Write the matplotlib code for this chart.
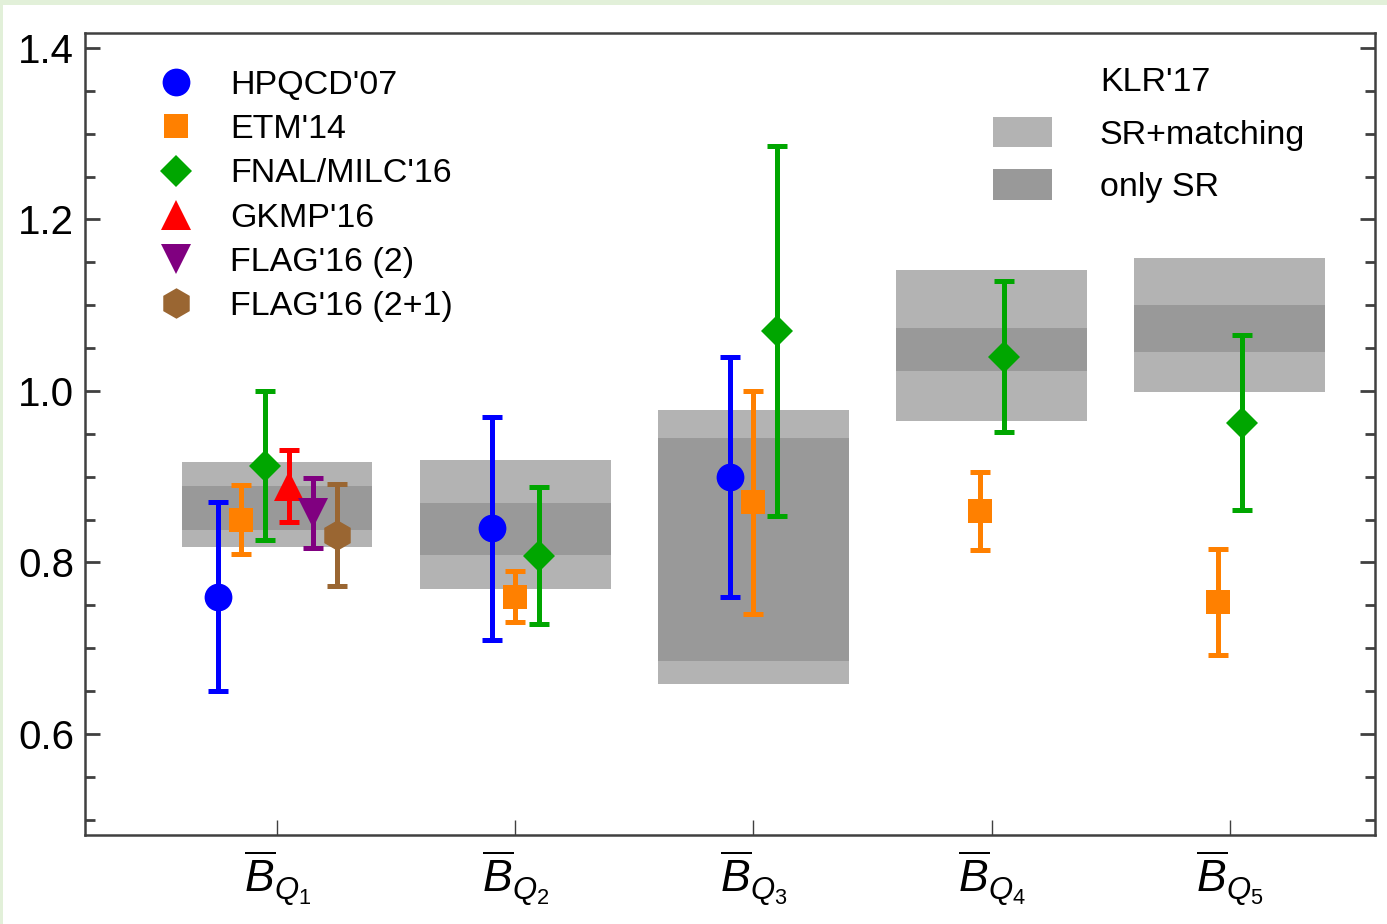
""" bag parameters: lattice results vs KLR'17 sum rules """

import numpy as np
import matplotlib.pyplot as plt
from matplotlib.lines import Line2D
from matplotlib.patches import Patch, Rectangle

plt.rcParams['font.family'] = ['Liberation Sans', 'DejaVu Sans']
plt.rcParams['mathtext.fontset'] = 'custom'
plt.rcParams['mathtext.rm'] = 'Liberation Sans'
plt.rcParams['mathtext.it'] = 'Liberation Sans:italic'

categories = [r'$\overline{B}_{Q_1}$', r'$\overline{B}_{Q_2}$', r'$\overline{B}_{Q_3}$',
              r'$\overline{B}_{Q_4}$', r'$\overline{B}_{Q_5}$']

# lattice results (value, error), nan = not available
series_names = ["HPQCD'07", "ETM'14", "FNAL/MILC'16", "GKMP'16", "FLAG'16 (2)", "FLAG'16 (2+1)"]
hpqcd = [0.76, 0.84, 0.90, np.nan, np.nan]
hpqcd_err = [0.11, 0.13, 0.14, np.nan, np.nan]
etm = [0.85, 0.76, 0.87, 0.86, 0.754]
etm_err = [0.04, 0.03, 0.13, 0.046, 0.062]
fnal = [0.913, 0.808, 1.07, 1.04, 0.963]
fnal_err = [0.087, 0.08, 0.216, 0.088, 0.102]
gkmp = [0.889, np.nan, np.nan, np.nan, np.nan]
gkmp_err = [0.042, np.nan, np.nan, np.nan, np.nan]
flag2 = [0.858, np.nan, np.nan, np.nan, np.nan]
flag2_err = [0.041, np.nan, np.nan, np.nan, np.nan]
flag21 = [0.832, np.nan, np.nan, np.nan, np.nan]
flag21_err = [0.059, np.nan, np.nan, np.nan, np.nan]

# KLR'17 sum rule bands (low, high)
sr_match_lo = [0.818, 0.769, 0.658, 0.965, 0.999]
sr_match_hi = [0.917, 0.920, 0.978, 1.141, 1.155]
sr_only_lo = [0.838, 0.809, 0.685, 1.023, 1.045]
sr_only_hi = [0.889, 0.869, 0.945, 1.073, 1.100]

values = [hpqcd, etm, fnal, gkmp, flag2, flag21]
errors = [hpqcd_err, etm_err, fnal_err, gkmp_err, flag2_err, flag21_err]
colors = ['#0000ff', '#ff8000', '#00a600', '#ff0000', '#800080', '#9a6632']
markers = ['o', 's', 'D', '^', 'v', 'h']
msizes = [20, 17, 16, 21, 21, 22]

fig = plt.figure(figsize=(13.87, 9.24), dpi=100, facecolor='#e2f0d9')
fig.patches.append(Rectangle((3 / 1387, 0), 1, 1 - 5 / 924, transform=fig.transFigure,
                             facecolor='white', edgecolor='none', zorder=-1))
ax = fig.add_axes([85 / 1387, 89 / 924, 1290 / 1387, 802 / 924])

x = np.arange(1, len(categories) + 1)
ax.bar(x, np.subtract(sr_match_hi, sr_match_lo), bottom=sr_match_lo, width=0.8,
       color='#b3b3b3', zorder=1)
ax.bar(x, np.subtract(sr_only_hi, sr_only_lo), bottom=sr_only_lo, width=0.8,
       color='#999999', zorder=2)

# spread the available points of each category around its centre
vals = np.array(values, dtype=float)
offsets = np.full(vals.shape, np.nan)
for j in range(vals.shape[1]):
    idx = np.where(~np.isnan(vals[:, j]))[0]
    offsets[idx, j] = (np.arange(len(idx)) - (len(idx) - 1) / 2) * 0.1

for i in range(len(series_names)):
    ok = ~np.isnan(vals[i])
    xs = x[ok] + offsets[i][ok]
    ax.errorbar(xs, vals[i][ok], yerr=np.array(errors[i])[ok], fmt='none',
                ecolor=colors[i], elinewidth=3.6, capsize=7.5, capthick=3.6, zorder=5)
    ax.plot(xs, vals[i][ok], ls='none', marker=markers[i], color=colors[i],
            ms=msizes[i], mew=0, zorder=6)

ax.set_xlim(0.193, 5.61)
ax.set_ylim(0.482, 1.4175)
ax.set_xticks(x)
ax.set_xticklabels(categories, fontsize=32)
ax.set_yticks([0.6, 0.8, 1.0, 1.2, 1.4])
ax.set_yticklabels(['0.6', '0.8', '1.0', '1.2', '1.4'], fontsize=29)
ax.set_yticks(np.arange(0.5, 1.41, 0.05), minor=True)
ax.tick_params(axis='y', which='both', direction='in', left=True, right=True,
               color='#404040', width=2)
ax.tick_params(axis='y', which='major', length=11, pad=8)
ax.tick_params(axis='y', which='minor', length=7)
ax.tick_params(axis='x', direction='in', length=11, width=1, color='#404040', pad=10)
for s in ax.spines.values():
    s.set_linewidth(1.8)
    s.set_color('#404040')

handles = [Line2D([], [], ls='none', marker=m, color=c, ms=ms, mew=0)
           for m, c, ms in zip(markers, colors, msizes)]
leg1 = ax.legend(handles, series_names, loc='upper left', bbox_to_anchor=(0.034, 0.971),
                 frameon=False, fontsize=24.5, handletextpad=0.58, labelspacing=0.39,
                 borderaxespad=0)
ax.add_artist(leg1)

klr_handles = [Patch(facecolor='none', edgecolor='none'),
               Patch(facecolor='#b3b3b3', edgecolor='none'),
               Patch(facecolor='#999999', edgecolor='none')]
ax.legend(klr_handles, ["KLR'17", 'SR+matching', 'only SR'], loc='upper left',
          bbox_to_anchor=(0.693, 0.978), frameon=False, fontsize=24.5,
          handlelength=1.75, handleheight=1.0, handletextpad=1.4, labelspacing=0.55,
          borderaxespad=0)

fig.savefig('out.png', dpi=100, facecolor=fig.get_facecolor())
